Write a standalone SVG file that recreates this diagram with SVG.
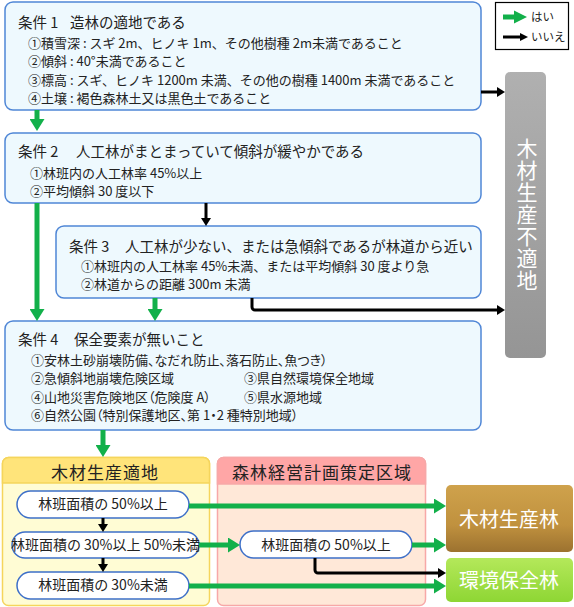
<svg xmlns="http://www.w3.org/2000/svg" width="574" height="607" viewBox="0 0 574 607">
<defs>
<style>
text{font-family:"Noto Sans CJK JP","Noto Sans",sans-serif;fill:#222}
.cbox{fill:#eef9fe;stroke:#4f86d6;stroke-width:1.5}
.t{font-size:14.5px}
.i{font-size:13px}
.p{font-feature-settings:"palt"}
.pill{fill:#fff;stroke:#3d6fc8;stroke-width:1.5}
.pt{font-size:14px;text-anchor:middle}
.hd{font-size:17px;letter-spacing:1px;text-anchor:middle}
.g{stroke:#12b04a;stroke-width:5;fill:none}
.b{stroke:#000;stroke-width:3;fill:none}
.w{fill:#fff;text-anchor:middle}
</style>
<marker id="gh" markerUnits="userSpaceOnUse" markerWidth="12" markerHeight="15" refX="0" refY="7.5" viewBox="0 0 12 15" orient="auto"><path d="M0,0 L12,7.5 L0,15 z" fill="#12b04a"/></marker>
<marker id="bh" markerUnits="userSpaceOnUse" markerWidth="8" markerHeight="10" refX="0" refY="5" viewBox="0 0 8 10" orient="auto"><path d="M0,0 L8,5 L0,10 z" fill="#000"/></marker>
<linearGradient id="gray" x1="0" y1="0" x2="0" y2="1"><stop offset="0" stop-color="#b0b0b0"/><stop offset="1" stop-color="#959595"/></linearGradient>
<linearGradient id="brown" x1="0" y1="0" x2="0" y2="1"><stop offset="0" stop-color="#cfa24c"/><stop offset="0.6" stop-color="#c0913e"/><stop offset="1" stop-color="#9c7230"/></linearGradient>
<linearGradient id="lg" x1="0" y1="0" x2="0" y2="1"><stop offset="0" stop-color="#b4e85a"/><stop offset="1" stop-color="#8ed634"/></linearGradient>
</defs>

<g id="legend">
<rect x="495.5" y="2.5" width="73" height="47" fill="#fff" stroke="#000" stroke-width="1.2"/>
<line x1="503" y1="17" x2="515" y2="17" class="g"/>
<path d="M514,10.5 L527,17 L514,23.5 z" fill="#12b04a"/>
<text x="531" y="21" font-size="11.5">はい</text>
<line x1="503" y1="37" x2="521" y2="37" class="b" stroke-width="2.5"/>
<path d="M520,33 L528,37 L520,41 z" fill="#000"/>
<text x="531" y="41" font-size="11.5">いいえ</text>
</g>

<g id="cond1">
<rect class="cbox" x="5" y="2" width="476" height="108" rx="8"/>
<text class="t" y="28"><tspan x="18">条件 1</tspan><tspan x="70">造林の適地である</tspan></text>
<text class="i" x="28" y="48">①積雪深 : スギ 2m、ヒノキ 1m、その他樹種 2m未満であること</text>
<text class="i" x="28" y="66">②傾斜 : 40°未満であること</text>
<text class="i" x="28" y="85">③標高 : スギ、ヒノキ 1200m 未満、その他の樹種 1400m 未満であること</text>
<text class="i" x="28" y="103">④土壌 : 褐色森林土又は黒色土であること</text>
</g>

<g id="cond2">
<rect class="cbox" x="5" y="133" width="476" height="70" rx="8"/>
<text class="t" y="157"><tspan x="18">条件 2</tspan><tspan x="76">人工林がまとまっていて傾斜が緩やかである</tspan></text>
<text class="i" x="30" y="178">①林班内の人工林率 45%以上</text>
<text class="i" x="30" y="196">②平均傾斜 30 度以下</text>
</g>

<g id="cond3">
<rect class="cbox" x="56" y="226" width="425" height="72" rx="8"/>
<text class="t" y="252"><tspan x="69">条件 3</tspan><tspan x="125">人工林が少ない、または急傾斜であるが林道から近い</tspan></text>
<text class="i" x="81" y="271">①林班内の人工林率 45%未満、または平均傾斜 30 度より急</text>
<text class="i" x="81" y="289">②林道からの距離 300m 未満</text>
</g>

<g id="cond4">
<rect class="cbox" x="5" y="321" width="476" height="109" rx="8"/>
<text class="t" y="345"><tspan x="18">条件 4</tspan><tspan x="74">保全要素が無いこと</tspan></text>
<text class="i p" x="31" y="365">①安林土砂崩壊防備、なだれ防止、落石防止、魚つき）</text>
<text class="i" x="31" y="383">②急傾斜地崩壊危険区域</text>
<text class="i" x="244" y="383">③県自然環境保全地域</text>
<text class="i p" x="31" y="402">④山地災害危険地区（危険度 A）</text>
<text class="i" x="244" y="402">⑤県水源地域</text>
<text class="i p" x="31" y="420">⑥自然公園（特別保護地区、第 1・2 種特別地域）</text>
</g>

<g id="unsuitable">
<rect x="505" y="72" width="41" height="286" rx="5" fill="url(#gray)"/>
<text class="w" x="527" y="138" font-size="21" letter-spacing="1" style="writing-mode:vertical-rl;text-anchor:start">木材生産不適地</text>
</g>

<g id="suitable">
<rect x="2.5" y="457.5" width="207" height="148" rx="6" fill="#fffcd4" stroke="#f5d55c" stroke-width="1.5"/>
<path d="M2.5,483 V463.5 a6,6 0 0 1 6,-6 H203.5 a6,6 0 0 1 6,6 V483 z" fill="#ffe47a" stroke="#f5d55c" stroke-width="1.5"/>
<text class="hd" x="105" y="479">木材生産適地</text>
</g>

<g id="plan">
<rect x="217.5" y="457.5" width="208" height="148" rx="6" fill="#ffe8d8" stroke="#f7a8a8" stroke-width="1.5"/>
<path d="M217.5,484 V463.5 a6,6 0 0 1 6,-6 H419.5 a6,6 0 0 1 6,6 V484 z" fill="#ffa6a6" stroke="#f7a8a8" stroke-width="1.5"/>
<text class="hd" x="322" y="479">森林経営計画策定区域</text>
</g>

<g id="pill1">
<rect class="pill" x="17" y="491" width="172" height="27" rx="13.5"/>
<text class="pt" x="103" y="509">林班面積の 50%以上</text>
</g>
<g id="pill2">
<rect class="pill" x="12" y="532" width="187" height="26" rx="13"/>
<text class="pt" x="105.5" y="550" font-size="13">林班面積の 30%以上 50%未満</text>
</g>
<g id="pill3">
<rect class="pill" x="17" y="572" width="172" height="27" rx="13.5"/>
<text class="pt" x="103" y="590">林班面積の 30%未満</text>
</g>
<g id="pill4">
<rect class="pill" x="240" y="531" width="172" height="27" rx="13.5"/>
<text class="pt" x="326" y="549.5">林班面積の 50%以上</text>
</g>

<g id="timber">
<rect x="446" y="485" width="127" height="67" rx="5" fill="url(#brown)"/>
<text class="w" x="509" y="527" font-size="20">木材生産林</text>
</g>
<g id="env">
<rect x="446" y="558" width="127" height="44" rx="5" fill="url(#lg)"/>
<text class="w" x="509" y="588" font-size="20">環境保全林</text>
</g>

<g id="connectors">
<line class="g" x1="37" y1="110" x2="37" y2="119" marker-end="url(#gh)"/>
<line class="g" x1="37" y1="203" x2="37" y2="309" marker-end="url(#gh)"/>
<line class="g" x1="155" y1="298" x2="155" y2="309" marker-end="url(#gh)"/>
<line class="g" x1="103" y1="430" x2="103" y2="445" marker-end="url(#gh)"/>
<line class="g" x1="189" y1="506" x2="434" y2="506" marker-end="url(#gh)"/>
<line class="g" x1="199" y1="545" x2="228" y2="545" marker-end="url(#gh)"/>
<line class="g" x1="412" y1="545" x2="434" y2="545" marker-end="url(#gh)"/>
<line class="g" x1="189" y1="586" x2="434" y2="586" marker-end="url(#gh)"/>
<line class="b" x1="481" y1="92" x2="497" y2="92" marker-end="url(#bh)"/>
<line class="b" x1="206" y1="203" x2="206" y2="218" marker-end="url(#bh)"/>
<path class="b" d="M252,298 V307 a3,3 0 0 0 3,3 H497" marker-end="url(#bh)"/>
<line class="b" x1="103" y1="518" x2="103" y2="524" marker-end="url(#bh)"/>
<line class="b" x1="103" y1="558" x2="103" y2="564" marker-end="url(#bh)"/>
<path class="b" d="M315,558 V570 a3,3 0 0 0 3,3 H438" marker-end="url(#bh)"/>
</g>
</svg>
